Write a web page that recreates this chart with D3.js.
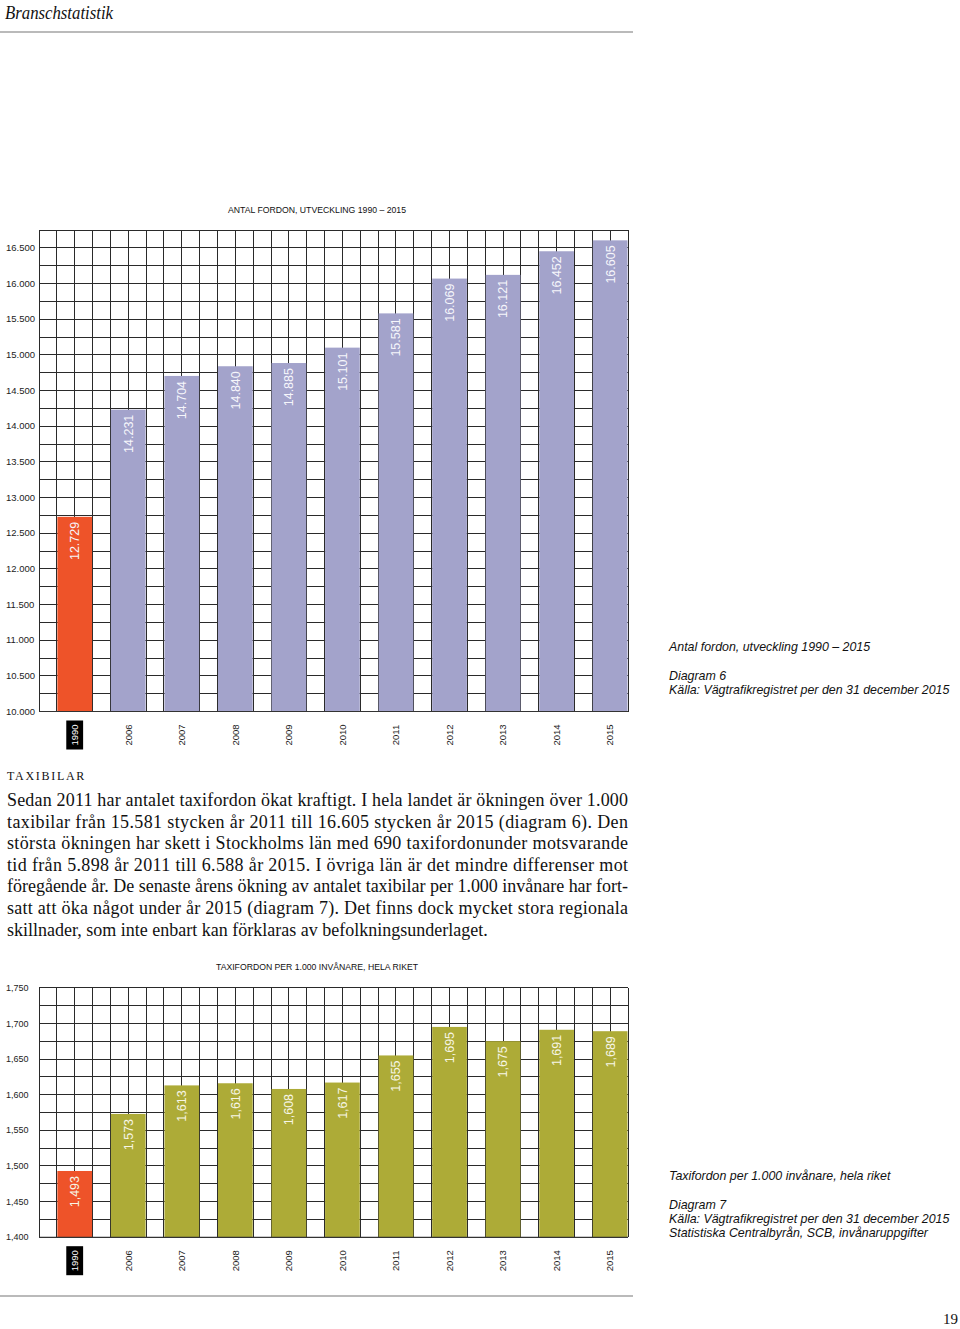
<!DOCTYPE html>
<html><head><meta charset="utf-8">
<script src="https://cdn.jsdelivr.net/npm/d3@7"></script>
<style>body{margin:0;background:#fff}svg{display:block}</style>
</head><body>
<script>
// ---------- data ----------
const years = ["1990","2006","2007","2008","2009","2010","2011","2012","2013","2014","2015"];
const fordon = [12729,14231,14704,14840,14885,15101,15581,16069,16121,16452,16605];
const perCapita = [1.493,1.573,1.613,1.616,1.608,1.617,1.655,1.695,1.675,1.691,1.689];
const fordonTicks = [10000,10500,11000,11500,12000,12500,13000,13500,14000,14500,15000,15500,16000,16500];
const perCapitaTicks = [1.40,1.45,1.50,1.55,1.60,1.65,1.70,1.75];
const bodyLines = [
  "Sedan 2011 har antalet taxifordon ökat kraftigt. I hela landet är ökningen över 1.000",
  "taxibilar från 15.581 stycken år 2011 till 16.605 stycken år 2015 (diagram 6). Den",
  "största ökningen har skett i Stockholms län med 690 taxifordonunder motsvarande",
  "tid från 5.898 år 2011 till 6.588 år 2015. I övriga län är det mindre differenser mot",
  "föregående år. De senaste årens ökning av antalet taxibilar per 1.000 invånare har fort-",
  "satt att öka något under år 2015 (diagram 7). Det finns dock mycket stora regionala",
  "skillnader, som inte enbart kan förklaras av befolkningsunderlaget."
];
const caption6 = ["Antal fordon, utveckling 1990 – 2015", "Diagram 6", "Källa: Vägtrafikregistret per den 31 december 2015"];
const caption7 = ["Taxifordon per 1.000 invånare, hela riket", "Diagram 7", "Källa: Vägtrafikregistret per den 31 december 2015", "Statistiska Centralbyrån, SCB, invånaruppgifter"];

// ---------- setup ----------
const W = 960, H = 1329;
const sans = "'Liberation Sans', Arial, Helvetica, sans-serif";
const serif = "'Liberation Serif', 'Times New Roman', serif";
const svg = d3.select("body").append("svg").attr("width", W).attr("height", H);
const se = d3.formatLocale({decimal: ",", thousands: ".", grouping: [3], currency: ["", ""]});
const fmtThousands = se.format(",d");
const fmtDec = se.format(".3f");

// header
svg.append("text").attr("x", 5).attr("y", 19)
  .attr("font-family", serif).attr("font-style", "italic").attr("font-size", 19)
  .attr("textLength", 108).attr("lengthAdjust", "spacingAndGlyphs")
  .attr("fill", "#111").text("Branschstatistik");
svg.append("line").attr("x1", 0).attr("x2", 633).attr("y1", 32).attr("y2", 32)
  .attr("stroke", "#777").attr("stroke-width", 1.2);

const x = d3.scaleBand().domain(years).range([39, 628])
  .paddingInner(1/3).paddingOuter(1/6).align(1);

function chart(opt) {
  const g = svg.append("g");
  const y = d3.scaleLinear().domain(opt.domain).range(opt.range);
  const cell = x.step() / 3;
  const r0 = x.range()[0], r1 = x.range()[1];
  // title
  g.append("text").attr("x", 317).attr("y", opt.titleY).attr("text-anchor", "middle")
    .attr("font-family", sans).attr("font-size", 9.5).attr("fill", "#111")
    .attr("textLength", opt.titleLen).attr("lengthAdjust", "spacingAndGlyphs").text(opt.title);
  // grid
  const hLines = d3.range(0, Math.round((opt.domain[1] - opt.domain[0]) / opt.gridStep) + 1)
    .map(i => opt.domain[0] + i * opt.gridStep);
  g.append("g").attr("shape-rendering", "crispEdges").selectAll("line").data(hLines).join("line")
    .attr("x1", r0).attr("x2", r1)
    .attr("y1", d => y(d)).attr("y2", d => y(d))
    .attr("stroke", "#2a2a2a").attr("stroke-width", 1);
  const vLines = d3.range(0, 34).map(i => r0 + i * cell);
  g.append("g").attr("shape-rendering", "crispEdges").selectAll("line").data(vLines).join("line")
    .attr("x1", d => d).attr("x2", d => d)
    .attr("y1", opt.range[1]).attr("y2", opt.range[0])
    .attr("stroke", "#2a2a2a").attr("stroke-width", 1);
  // bars
  const data = years.map((yr, i) => ({yr, v: opt.values[i]}));
  g.append("g").selectAll("rect").data(data).join("rect")
    .attr("x", d => x(d.yr) + 0.5).attr("width", x.bandwidth() - 1)
    .attr("y", d => y(d.v)).attr("height", d => y(opt.domain[0]) - y(d.v))
    .attr("fill", (d, i) => i === 0 ? "#EE5329" : opt.color);
  // bar labels
  g.append("g").selectAll("text").data(data).join("text")
    .attr("transform", d => `translate(${x(d.yr) + x.bandwidth() / 2},${y(d.v) + 5}) rotate(-90)`)
    .attr("text-anchor", "end").attr("dy", "0.35em")
    .attr("font-family", sans).attr("font-size", 12.5).attr("fill", opt.labelColor)
    .text(d => opt.labelFmt(d.v));
  // axis line
  g.append("line").attr("x1", r0).attr("x2", r1).attr("y1", opt.range[0]).attr("y2", opt.range[0])
    .attr("stroke", "#333").attr("stroke-width", 1.2);
  // y tick labels
  g.append("g").selectAll("text").data(opt.ticks).join("text")
    .attr("x", 6).attr("y", d => y(d)).attr("dy", "0.35em")
    .attr("font-family", sans).attr("font-size", opt.tickSize).attr("fill", "#222")
    .text(opt.tickFmt);
  // x labels
  const xl = g.append("g").selectAll("g").data(years).join("g")
    .attr("transform", d => `translate(${x(d) + x.bandwidth() / 2},${opt.xLabelY})`);
  xl.filter((d, i) => i === 0).append("rect")
    .attr("x", -cell / 2 + 0.5).attr("width", cell - 1).attr("y", -14.5).attr("height", 29).attr("fill", "#000");
  xl.append("text").attr("transform", "rotate(-90)").attr("text-anchor", "middle").attr("dy", "0.35em")
    .attr("font-family", sans).attr("font-size", 9.5)
    .attr("fill", (d, i) => i === 0 ? "#fff" : "#222").text(d => d);
  // caption
  const cap = g.append("g").attr("font-family", sans).attr("font-style", "italic").attr("font-size", 12.4).attr("fill", "#111");
  opt.caption.forEach((t, i) => {
    cap.append("text").attr("x", 669).attr("y", opt.capY[i]).attr("dy", "0.35em").text(t);
  });
}

chart({
  domain: [10000, 16750], range: [711.5, 230], gridStep: 250,
  values: fordon, ticks: fordonTicks, tickFmt: fmtThousands, tickSize: 9.5,
  labelFmt: fmtThousands, color: "#A3A3CB", labelColor: "#f6f6fb",
  title: "ANTAL FORDON, UTVECKLING 1990 – 2015", titleY: 213, titleLen: 178,
  xLabelY: 735, caption: caption6, capY: [647, 676, 690]
});

// body text
svg.append("text").attr("x", 7).attr("y", 780)
  .attr("font-family", serif).attr("font-size", 12).attr("letter-spacing", 1.7)
  .attr("fill", "#111").text("TAXIBILAR");
const body = svg.append("g").attr("font-family", serif).attr("font-size", 18).attr("fill", "#111");
bodyLines.forEach((t, i) => {
  const tx = body.append("text").attr("x", 7).attr("y", 806 + i * 21.6).text(t);
  if (i < bodyLines.length - 1) tx.attr("textLength", 621).attr("lengthAdjust", "spacing");
});

chart({
  domain: [1.4, 1.75], range: [1237.3, 987.7], gridStep: 0.025,
  values: perCapita, ticks: perCapitaTicks, tickFmt: fmtDec, tickSize: 9,
  labelFmt: fmtDec, color: "#ADAB37", labelColor: "#f7f6e6",
  title: "TAXIFORDON PER 1.000 INVÅNARE, HELA RIKET", titleY: 969.5, titleLen: 202,
  xLabelY: 1260.7, caption: caption7, capY: [1176, 1205, 1219, 1233]
});

svg.append("line").attr("x1", 0).attr("x2", 633).attr("y1", 1296).attr("y2", 1296)
  .attr("stroke", "#777").attr("stroke-width", 1.2);
svg.append("text").attr("x", 958).attr("y", 1324).attr("text-anchor", "end")
  .attr("font-family", serif).attr("font-size", 15).attr("fill", "#111").text("19");
</script>
</body></html>
